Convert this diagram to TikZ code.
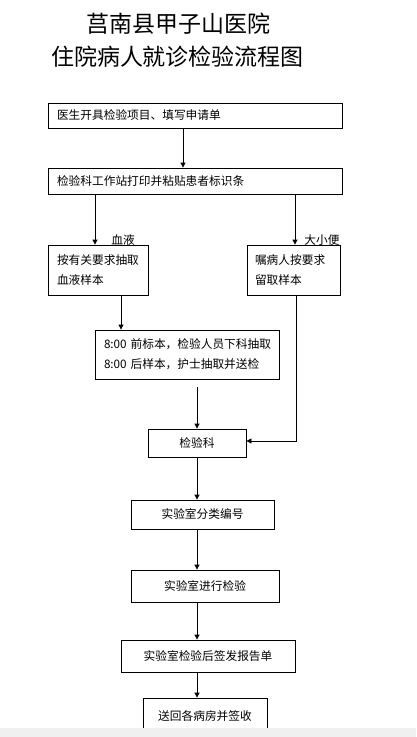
\documentclass[tikz,border=0pt]{standalone}
\usepackage{fontspec}
\newfontfamily\cjk{Noto Sans CJK SC}
\usetikzlibrary{arrows.meta}
\tikzset{
  box/.style={draw, line width=0.8pt, inner sep=0pt, font=\cjk\fontsize{11.7}{20}\selectfont},
  lbox/.style={box, align=left},
  cbox/.style={box, align=center},
  lab/.style={inner sep=0pt, font=\cjk\fontsize{11.7}{14}\selectfont},
  ttl/.style={inner sep=0pt, font=\cjk\fontsize{23}{28}\selectfont},
  arr/.style={line width=0.8pt, -{Triangle[length=5pt,width=5pt]}},
  ln/.style={line width=0.8pt}
}
\begin{document}
\begin{tikzpicture}[x=1pt,y=-1pt]
\useasboundingbox (0,0) rectangle (416,737);
\fill[white] (0,0) rectangle (416,737);
% titles
\node[ttl] (t1) at (178.5,24) {莒南县甲子山医院};
\node[ttl] (t2) at (177.5,57) {住院病人就诊检验流程图};
% boxes
\node[lbox, minimum width=294pt, minimum height=25pt, text width=276pt] (b1) at (195,115.5) {医生开具检验项目、填写申请单};
\node[lbox, minimum width=294pt, minimum height=26pt, text width=276pt] (b2) at (195,181) {检验科工作站打印并粘贴患者标识条};
\node[lbox, minimum width=100pt, minimum height=50pt, text width=82pt] (b3) at (98,270) {按有关要求抽取\\血液样本};
\node[lbox, minimum width=93pt, minimum height=50pt, text width=77pt] (b4) at (293.5,270) {嘱病人按要求\\留取样本};
\node[lbox, minimum width=184pt, minimum height=49pt, text width=166pt] (b5) at (187,354.5) {8:00~前标本，检验人员下科抽取\\8:00~后样本，护士抽取并送检};
\node[cbox, minimum width=98pt, minimum height=28pt] (b6) at (197,443) {检验科};
\node[cbox, minimum width=143pt, minimum height=29pt] (b7) at (202.5,514.5) {实验室分类编号};
\node[cbox, minimum width=148pt, minimum height=32pt] (b8) at (205,586) {实验室进行检验};
\node[cbox, minimum width=174pt, minimum height=32pt] (b9) at (208,656) {实验室检验后签发报告单};
\node[cbox, minimum width=124pt, minimum height=36pt] (b10) at (205,716) {送回各病房并签收};
% labels
\node[lab] (l1) at (123,240) {血液};
\node[lab] (l2) at (322,240) {大小便};
% guide coordinates
\coordinate (c1) at (183,0);
\coordinate (cl) at (95,0);
\coordinate (cr) at (295,0);
\coordinate (c3) at (121,0);
\coordinate (cx) at (197,0);
\coordinate (bend) at (296,441);
% connectors
\draw[arr] (b1.south -| c1) -- (b2.north -| c1);
\draw[arr] (b2.south -| cl) -- (b3.north -| cl);
\draw[arr] (b2.south -| cr) -- (b4.north -| cr);
\draw[arr] (b3.south -| c3) -- (b5.north -| c3);
\draw[arr] ([yshift=-8pt]b5.south -| cx) -- (b6.north -| cx);
\draw[arr] (b4.south -| bend) -- (bend) -- (b6.east |- bend);
\draw[arr] (b6.south -| cx) -- (b7.north -| cx);
\draw[arr] (b7.south -| cx) -- (b8.north -| cx);
\draw[arr] (b8.south -| cx) -- (b9.north -| cx);
\draw[arr] (b9.south -| cx) -- (b10.north -| cx);
% bottom strip
\fill[black!6] (0,728) rectangle (416,737);
\end{tikzpicture}
\end{document}
